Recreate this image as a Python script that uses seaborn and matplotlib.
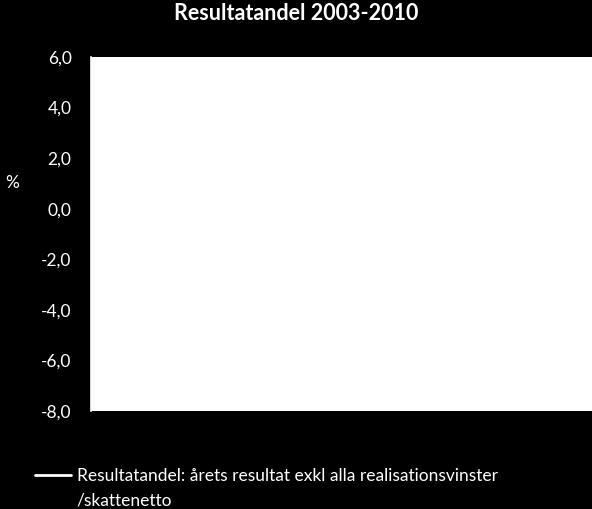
import matplotlib
matplotlib.use("Agg")
import matplotlib.pyplot as plt
import seaborn as sns
import pandas as pd

# Data (the line is white on white in the original, so values are estimates)
years = [2003, 2004, 2005, 2006, 2007, 2008, 2009, 2010]
resultatandel = [2.4, 3.1, 3.6, 3.3, 2.7, 0.9, 2.8, 3.4]
series_label = "Resultatandel: årets resultat exkl alla realisationsvinster"
series_label_2 = "/skattenetto"
yticks = [6, 4, 2, 0, -2, -4, -6, -8]

sns.set_style("white", {"axes.facecolor": "white", "figure.facecolor": "black"})
plt.rcParams["font.family"] = ["Lato", "DejaVu Sans"]

df = pd.DataFrame({"year": years, "value": resultatandel})

fig = plt.figure(figsize=(5.92, 5.09), dpi=100, facecolor="black")
ax = fig.add_axes([91 / 592, 1 - 411 / 509, 1 - 91 / 592, (411 - 57) / 509])

sns.lineplot(data=df, x="year", y="value", color="white", linewidth=2,
             label=series_label, ax=ax, legend=False)

ax.set_ylim(-8, 6)
ax.set_yticks(yticks)
ax.set_yticklabels([f"{v:.1f}".replace(".", ",") for v in yticks],
                   color="white", fontsize=12.5)
ax.tick_params(axis="y", direction="out", length=6, width=1.2, color="white", pad=8)
ax.set_xticks([])
ax.set_xlabel("")
ax.set_ylabel("")
for side in ["top", "right", "bottom"]:
    ax.spines[side].set_visible(False)
ax.spines["left"].set_color("white")
ax.spines["left"].set_linewidth(1.2)

fig.text(296 / 592, 1 - 14 / 509, "Resultatandel 2003-2010", color="white",
         fontsize=15.5, fontweight="bold", ha="center", va="center")
fig.text(5 / 592, 1 - 183 / 509, "%", color="white", fontsize=12.5,
         ha="left", va="center")

handles, labels = ax.get_legend_handles_labels()
leg = fig.legend(handles, labels, loc="center left",
                 bbox_to_anchor=(35 / 592, 1 - 476 / 509), frameon=False,
                 fontsize=12.5, labelcolor="white", handlelength=2.1,
                 handletextpad=0.3, borderaxespad=0, borderpad=0)
for line in leg.get_lines():
    line.set_color("white")
    line.set_linewidth(2)

# second line of the legend label, aligned under the first
fig.canvas.draw()
bb = leg.get_texts()[0].get_window_extent().transformed(fig.transFigure.inverted())
fig.text(bb.x0, 1 - 500 / 509, series_label_2, color="white", fontsize=12.5,
         ha="left", va="center")

fig.savefig("out.png", dpi=100, facecolor="black")
